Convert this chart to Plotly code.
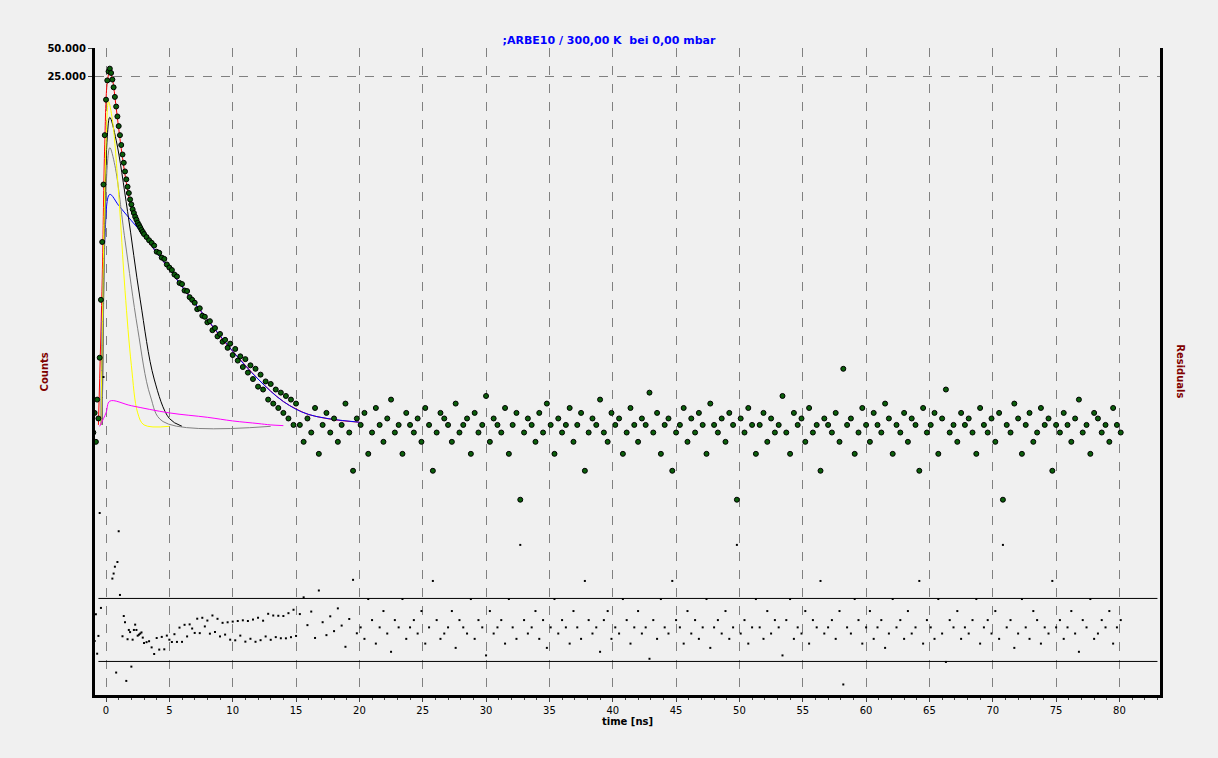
#!/usr/bin/env python3
"""
Fluorescence decay plot (counts + fit components + residuals)
"""

import numpy as np
import plotly.graph_objects as go

# --- data ---
# rising edge and peak, 0.1 ns channels from -1.0 ns
peak_t0, peak_dt = -1.0, 0.1
peak_counts = [5, 8, 4, 11, 7, 30, 120, 480, 1900, 6200, 14500, 23000, 28500, 30500,
               27500, 23500, 19500, 15500, 12300, 9700, 7700, 6200, 4900, 3900, 3200,
               2600, 2150, 1800, 1550, 1330, 1180, 1050, 960, 880, 820, 760, 720, 680,
               640, 610, 580]
# tail, 0.2 ns channels from 3.2 ns
tail_t0, tail_dt = 3.2, 0.2
tail_counts = [540, 500, 470, 440, 380, 370, 330, 320, 280, 260, 245, 220, 210, 180, 175,
               150, 148, 128, 120, 112, 96, 98, 82, 80, 70, 72, 58, 61, 50, 53, 44, 46,
               38, 42, 32, 37, 28, 31, 24, 29, 21, 25, 18, 23, 15, 20, 14, 17, 11, 16,
               10, 14, 9, 13, 8, 12, 7, 11, 6, 10]
# background, 0.3 ns channels from 15.3 ns
bg_t0, bg_dt = 15.3, 0.3
bg_counts = [6, 4, 7, 5, 9, 3, 6, 8, 5, 7, 4, 6, 10, 5, 2, 7, 6, 8, 3, 5,
             9, 6, 4, 7, 11, 5, 6, 3, 8, 6, 5, 7, 4, 9, 6, 2, 5, 8, 7, 6,
             4, 10, 5, 6, 7, 3, 8, 5, 6, 12, 4, 7, 6, 5, 9, 3, 6, 8, 1, 5,
             7, 6, 4, 8, 5, 10, 6, 3, 7, 5, 6, 9, 4, 6, 8, 2, 5, 7, 6, 11,
             5, 4, 8, 6, 7, 3, 5, 9, 6, 4, 7, 6, 13, 5, 8, 3, 6, 7, 2, 5,
             6, 9, 4, 7, 5, 8, 6, 3, 10, 6, 5, 7, 4, 8, 6, 1, 7, 5, 9, 6,
             3, 6, 8, 4, 7, 5, 6, 12, 5, 3, 8, 6, 7, 4, 9, 5, 6, 2, 7, 6,
             5, 8, 4, 23, 6, 7, 3, 5, 9, 6, 4, 8, 6, 5, 10, 7, 3, 6, 5, 8,
             4, 7, 6, 2, 9, 5, 6, 8, 3, 7, 14, 5, 6, 4, 8, 6, 7, 5, 3, 9,
             6, 5, 7, 4, 8, 1, 6, 5, 10, 7, 3, 6, 8, 4, 5, 9, 6, 7, 2, 6,
             5, 8, 6, 4, 7, 11, 5, 6, 3, 8, 7, 5, 6, 4, 9, 6, 5]

# fit curves (time ns, counts)
fit_t = [-0.6, -0.3, -0.1, 0.1, 0.3, 0.5, 0.8, 1.2, 1.6, 2.0, 2.5, 3, 4, 5, 6, 7, 8, 9,
         10, 11, 12, 13, 14, 15, 16, 18, 20]
fit_v = [6, 200, 5000, 22000, 29000, 24000, 12000, 4500, 2000, 1100, 750, 560, 370, 250,
         165, 110, 75, 50, 35, 25, 18, 13.5, 10.5, 8.8, 7.7, 6.8, 6.4]
blue_t = [-0.4, -0.1, 0.3, 1, 2, 3, 4, 5, 6, 8, 10, 12, 14, 16, 20]
blue_v = [6, 500, 1500, 1150, 800, 560, 370, 250, 165, 75, 35, 18, 10.5, 7.7, 6.4]
yellow_t = [-0.4, 0, 0.2, 0.5, 1, 1.5, 2, 2.5, 3, 5]
yellow_v = [6, 5000, 13800, 9000, 1500, 150, 25, 8, 6, 5.8]
gray_t = [-0.3, 0.1, 0.3, 0.7, 1.5, 2.5, 3.5, 4.5, 13]
gray_v = [6, 3000, 4600, 3000, 500, 60, 12, 6.5, 5.8]
black_t = [-0.3, 0.1, 0.3, 0.8, 1.7, 2.7, 3.8, 5, 6]
black_v = [6, 6000, 9500, 5500, 1000, 120, 18, 7, 5.8]
magenta_t = [-0.5, 0, 0.3, 2, 5, 8, 10, 12, 13, 14]
magenta_v = [5.8, 8, 10.6, 9.5, 8, 7.2, 6.6, 6.2, 6.0, 5.9]

RES_LIMIT = 2

t = np.concatenate([
    peak_t0 + peak_dt * np.arange(len(peak_counts)),
    tail_t0 + tail_dt * np.arange(len(tail_counts)),
    bg_t0 + bg_dt * np.arange(len(bg_counts)),
])
counts = np.array(peak_counts + tail_counts + bg_counts, dtype=float)
fit_at_t = np.interp(t, fit_t, fit_v)
residuals = (fit_at_t - counts) / np.sqrt(counts)

fig = go.Figure()

for xs, ys, col in [(fit_t, fit_v, "red"), (blue_t, blue_v, "blue"),
                    (black_t, black_v, "black"), (gray_t, gray_v, "gray"),
                    (yellow_t, yellow_v, "#ffff00"), (magenta_t, magenta_v, "magenta")]:
    fig.add_trace(go.Scatter(x=xs, y=ys, mode="lines", line=dict(color=col, width=1),
                             line_shape="spline", showlegend=False))
fig.add_trace(go.Scatter(
    x=t, y=counts, mode="markers",
    marker=dict(size=5, color="#0b5e0b", line=dict(color="black", width=1)),
    showlegend=False))

fig.add_trace(go.Scatter(
    x=t, y=residuals, mode="markers", yaxis="y2",
    marker=dict(size=2, color="black", symbol="square"), showlegend=False))
for lim in (RES_LIMIT, -RES_LIMIT):
    fig.add_trace(go.Scatter(x=[-0.6, 83], y=[lim, lim], mode="lines", yaxis="y2",
                             line=dict(color="black", width=1), showlegend=False))

fig.update_layout(
    width=1218, height=758,
    paper_bgcolor="#f0f0f0", plot_bgcolor="#f0f0f0",
    margin=dict(l=95, r=58, t=48, b=63, autoexpand=False),
    font=dict(family="DejaVu Sans", size=10, color="black"),
    title=dict(text="<b>;ARBE10 / 300,00 K  bei 0,00 mbar</b>", x=0.5, xanchor="center",
               y=0.952, font=dict(color="blue", size=11)),
    xaxis=dict(range=[-0.87, 83.2], dtick=5, tick0=0, showgrid=True, gridcolor="#808080",
               griddash="dash", gridwidth=1, zeroline=False, showline=True,
               linecolor="black", linewidth=3, ticks="outside", ticklen=4,
               minor=dict(dtick=1, ticks="outside", ticklen=2, showgrid=False),
               tickfont=dict(size=10, color="black", family="DejaVu Sans"),
               title=dict(text="<b>time [ns]</b>", standoff=2, font=dict(size=10))),
    yaxis=dict(type="log", range=[np.log10(0.0093), np.log10(50000)],
               tickvals=[25000, 50000], ticktext=["<b>25.000</b>", "<b>50.000</b>"],
               showgrid=True, gridcolor="#808080", griddash="dash", zeroline=False,
               showline=True, linecolor="black", linewidth=3, ticks="outside", ticklen=4,
               automargin=False),
    yaxis2=dict(overlaying="y", side="right", range=[-4.13, 36.95], showgrid=False,
                zeroline=False, showticklabels=False, showline=True, linecolor="black",
                linewidth=3, ticks="", automargin=False),
)
fig.add_annotation(text="<b>Counts</b>", xref="paper", yref="paper", x=-0.047, y=0.5,
                   textangle=-90, showarrow=False, xanchor="center",
                   font=dict(color="#800000", size=10))
fig.add_annotation(text="<b>Residuals</b>", xref="paper", yref="paper", x=1.012, y=0.5,
                   textangle=90, showarrow=False, xanchor="left",
                   font=dict(color="#800000", size=10))

fig.write_html("out.html", config={"displayModeBar": False},
               post_script="document.body.style.margin='0';")
